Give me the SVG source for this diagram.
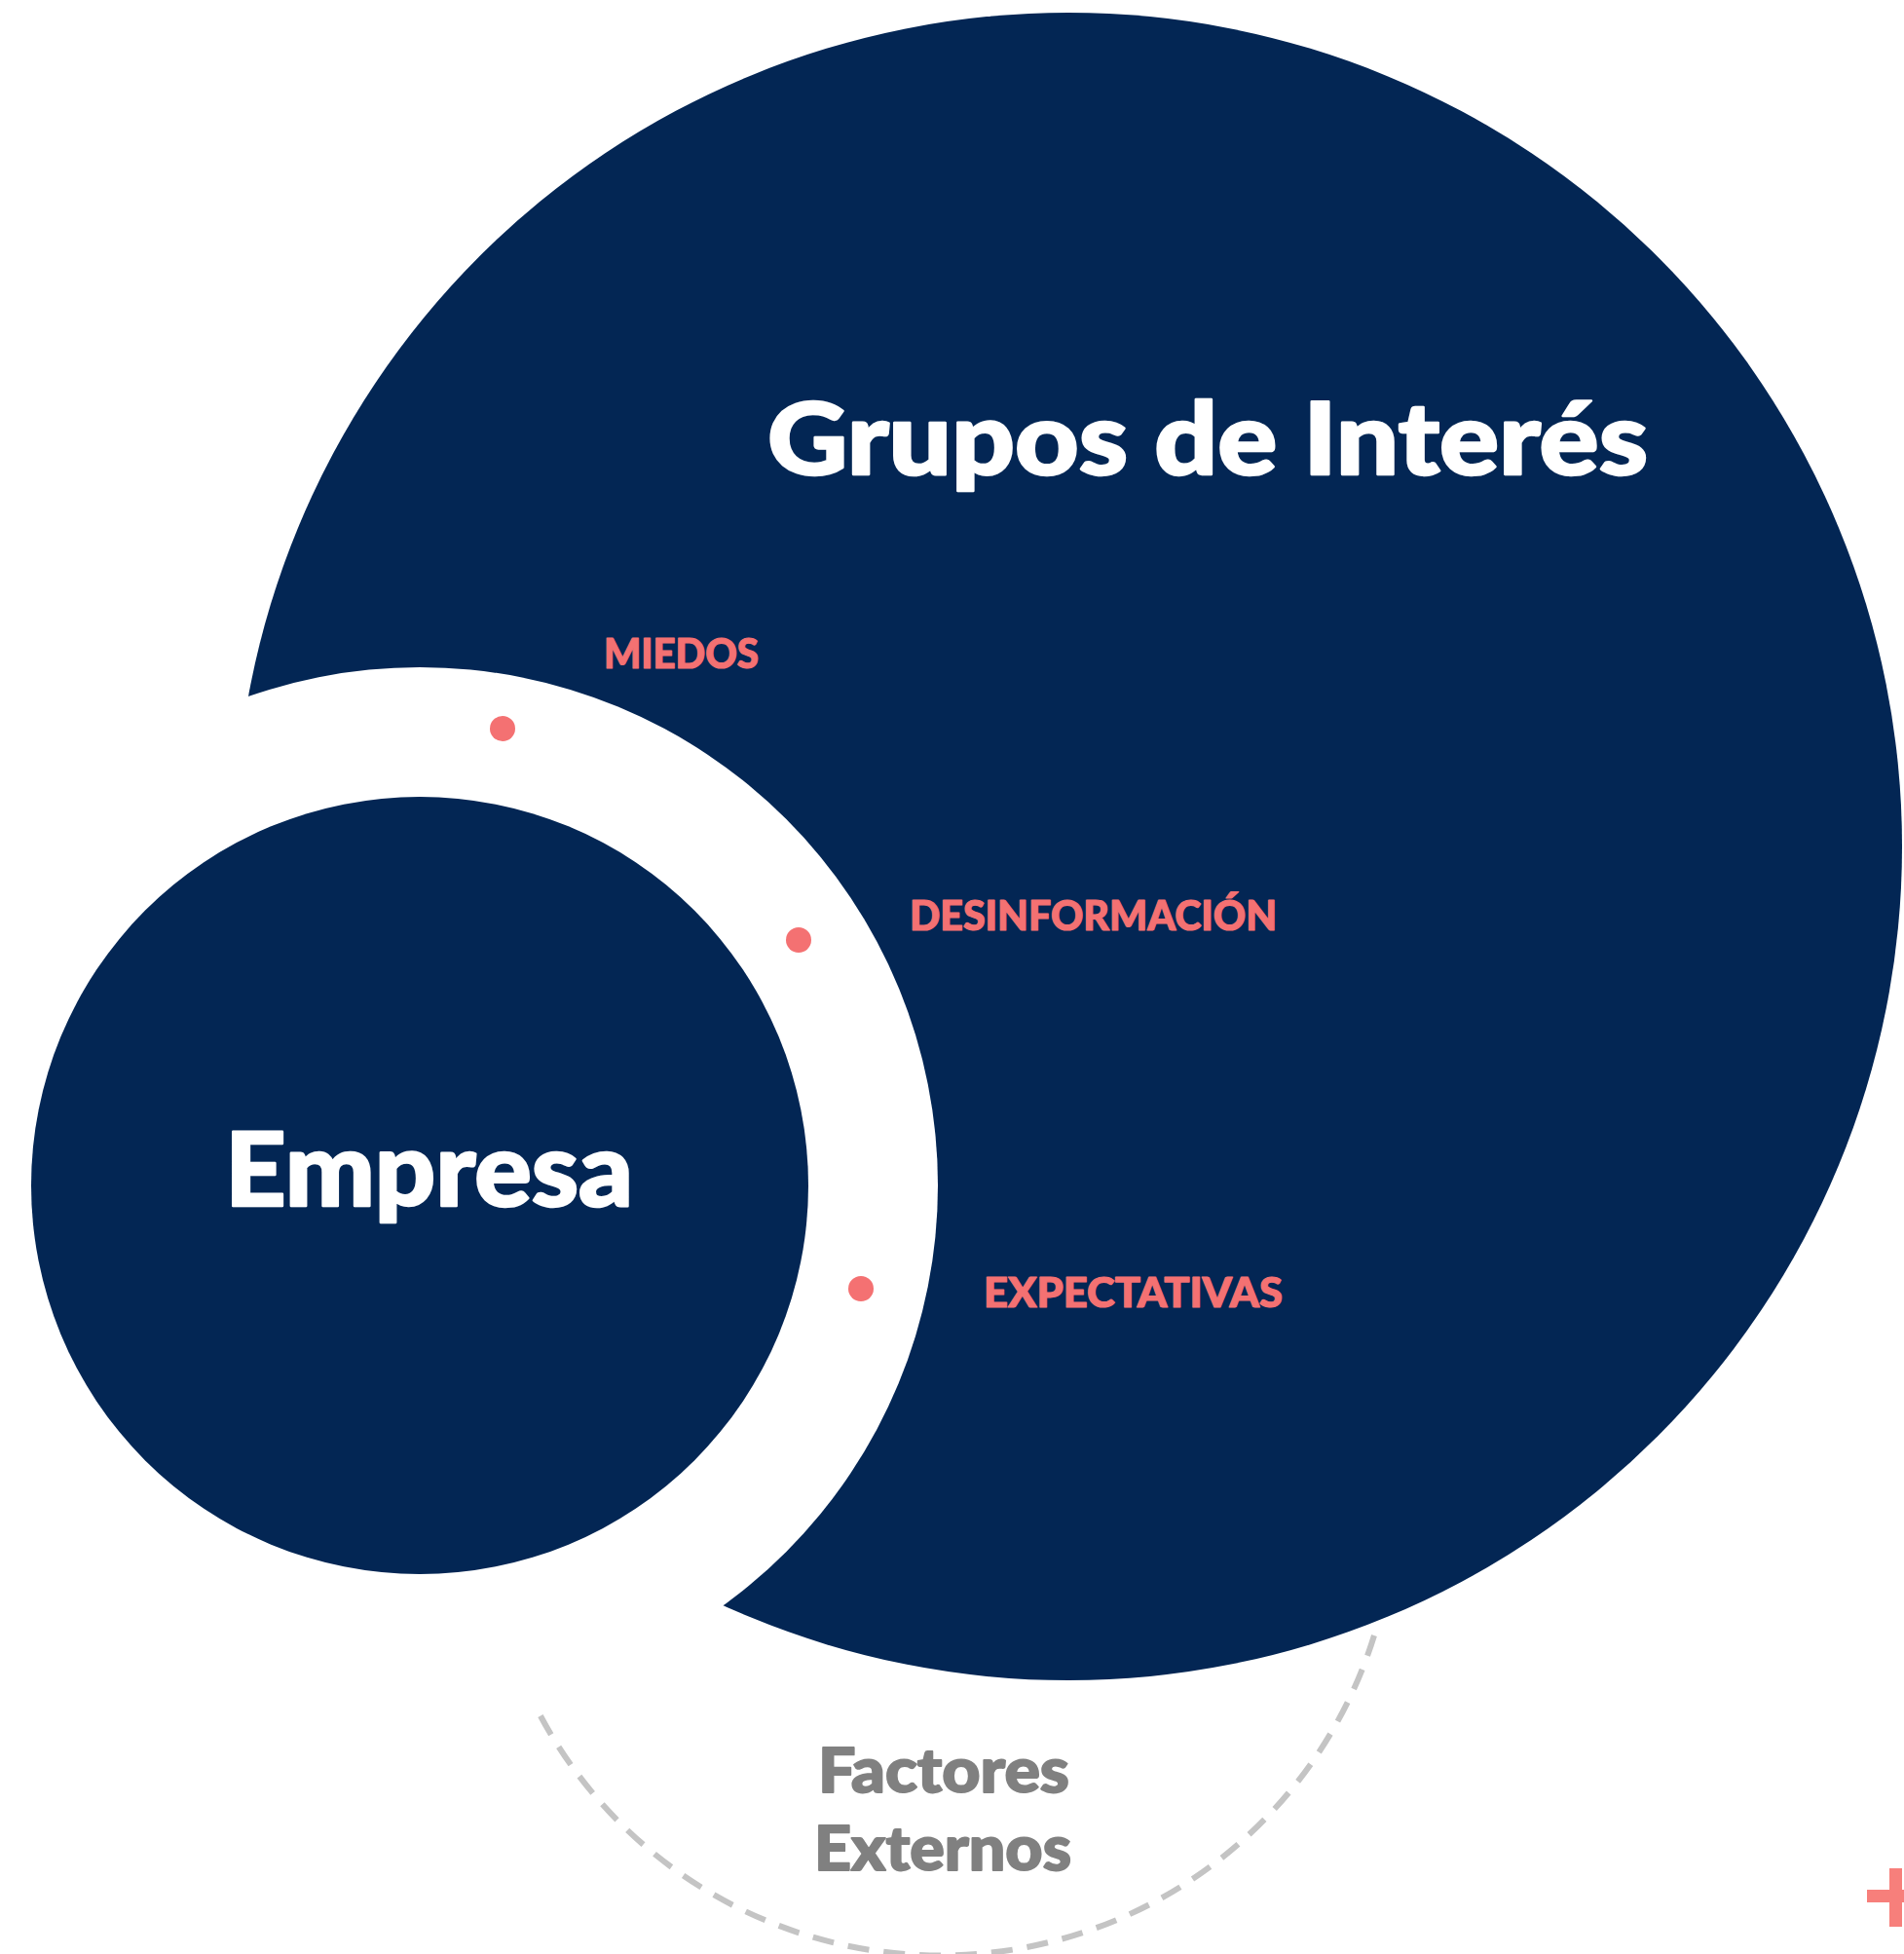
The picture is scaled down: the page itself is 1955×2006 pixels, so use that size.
<svg xmlns="http://www.w3.org/2000/svg" width="1955" height="2006" viewBox="0 0 1955 2006">
  <style>
    .navy { fill: #032654; }
    .dot { fill: #F47172; }
    .lbl { font-family: Lato, "Liberation Sans", sans-serif; font-weight: 900; stroke-linejoin: round; }
    .white { fill: #FFFFFF; stroke: #FFFFFF; stroke-width: 2.5; }
    .pink { fill: #F47172; stroke: #F47172; stroke-width: 1.2; font-size: 42px; }
    .gray { fill: #808080; stroke: #808080; stroke-width: 1.8; font-size: 62px; }
  </style>
  <rect width="1955" height="2006" fill="#FFFFFF"/>
  <g id="factores-externos">
    <path d="M 1411 1679 A 466 466 0 0 1 550 1752" fill="none" stroke="#C4C4C4" stroke-width="6" stroke-dasharray="22 15"/>
    <text class="lbl gray" x="840" y="1840" textLength="258" lengthAdjust="spacingAndGlyphs">Factores</text>
    <text class="lbl gray" x="836" y="1920" textLength="264" lengthAdjust="spacingAndGlyphs">Externos</text>
  </g>
  <g id="grupos-de-interes">
    <circle class="navy" cx="1097" cy="869" r="856"/>
    <text class="lbl white" x="788" y="487" font-size="103" textLength="904" lengthAdjust="spacingAndGlyphs">Grupos de Interés</text>
  </g>
  <g id="ring">
    <circle cx="431" cy="1217" r="532" fill="#FFFFFF"/>
  </g>
  <g id="empresa">
    <circle class="navy" cx="431" cy="1217" r="399"/>
    <text class="lbl white" x="231" y="1238" font-size="104" textLength="419" lengthAdjust="spacingAndGlyphs">Empresa</text>
  </g>
  <g id="miedos">
    <circle class="dot" cx="516" cy="748" r="13"/>
    <text class="lbl pink" x="620" y="686" textLength="159" lengthAdjust="spacingAndGlyphs">MIEDOS</text>
  </g>
  <g id="desinformacion">
    <circle class="dot" cx="820" cy="965" r="13"/>
    <text class="lbl pink" x="934" y="955" textLength="377" lengthAdjust="spacingAndGlyphs">DESINFORMACIÓN</text>
  </g>
  <g id="expectativas">
    <circle class="dot" cx="884" cy="1323" r="13"/>
    <text class="lbl pink" x="1010" y="1342" textLength="307" lengthAdjust="spacingAndGlyphs">EXPECTATIVAS</text>
  </g>
  <g id="plus" fill="#F77F7B">
    <rect x="1940" y="1918" width="13" height="60"/>
    <rect x="1917" y="1940" width="60" height="13"/>
  </g>
</svg>
